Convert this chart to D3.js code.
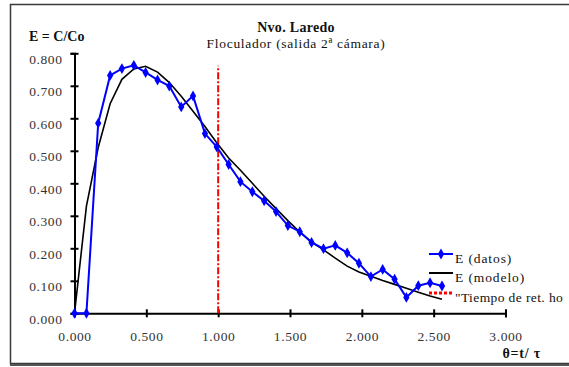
<!DOCTYPE html>
<html>
<head>
<meta charset="utf-8">
<script src="https://cdn.jsdelivr.net/npm/d3@7"></script>
<style>
  html, body { margin: 0; padding: 0; background: #fff; }
  svg { display: block; }
  text { font-family: "Liberation Serif", "Times New Roman", serif; }
</style>
</head>
<body>
<svg id="chart" width="569" height="367"></svg>
<script>
// Dimensionless time θ = t/τ for each sample
const theta = [0, 0.083, 0.165, 0.248, 0.330, 0.413, 0.495, 0.578, 0.660, 0.743,
  0.825, 0.908, 0.990, 1.073, 1.155, 1.238, 1.320, 1.403, 1.485, 1.568,
  1.650, 1.733, 1.815, 1.898, 1.980, 2.063, 2.145, 2.228, 2.310, 2.393,
  2.475, 2.558];
// Measured E = C/Co
const eDatos = [0.000, 0.000, 0.585, 0.732, 0.753, 0.763, 0.741, 0.718, 0.699, 0.635,
  0.669, 0.553, 0.512, 0.458, 0.405, 0.374, 0.346, 0.313, 0.270, 0.251,
  0.218, 0.199, 0.209, 0.186, 0.154, 0.113, 0.135, 0.105, 0.049, 0.085,
  0.094, 0.084];
// Model E curve
const eModelo = [0.000, 0.330, 0.510, 0.645, 0.720, 0.752, 0.760, 0.742, 0.710, 0.668,
  0.622, 0.575, 0.525, 0.478, 0.440, 0.400, 0.360, 0.322, 0.285, 0.250,
  0.220, 0.195, 0.170, 0.145, 0.127, 0.114, 0.101, 0.089, 0.077, 0.065,
  0.053, 0.043];
// Hydraulic retention time marker (θ = 1)
const tiempoRet = { theta: [1.0, 1.0], e: [0.0, 0.762] };

const xTicks = [0, 0.5, 1.0, 1.5, 2.0, 2.5, 3.0];
const yTicks = [0, 0.1, 0.2, 0.3, 0.4, 0.5, 0.6, 0.7, 0.8];
const legendLabels = ["E (datos)", "E (modelo)", "\"Tiempo de ret. ho"];

const svg = d3.select("#chart");

// outer frame
svg.append("rect").attr("x", 10.5).attr("y", 4.5).attr("width", 600).attr("height", 359)
  .attr("fill", "none").attr("stroke", "#3a3a3a").attr("stroke-width", 1.5);
svg.append("line").attr("x1", 10).attr("x2", 569).attr("y1", 365).attr("y2", 365)
  .attr("stroke", "#555").attr("stroke-width", 2);

const x = d3.scaleLinear().domain([0, 3]).range([74.5, 505.5]);
const y = d3.scaleLinear().domain([0, 0.8]).range([313.3, 53.3]);

const fmt = d3.format(".3f");

// X axis
const gx = svg.append("g").attr("transform", `translate(0,${y(0)})`)
  .call(d3.axisBottom(x).tickValues(xTicks).tickFormat(fmt).tickSizeOuter(0).tickSize(4).tickPadding(20));
gx.select(".domain").attr("stroke", "#000").attr("stroke-width", 2);
gx.selectAll(".tick line").attr("y1", -4).attr("y2", 4).attr("stroke", "#000").attr("stroke-width", 2);
gx.selectAll(".tick text").attr("font-family", "Liberation Serif, serif").attr("font-size", 13.5)
  .attr("letter-spacing", 0.6).attr("fill", "#333").attr("dy", "0.25em");

// Y axis
const gy = svg.append("g").attr("transform", `translate(${x(0)},0)`)
  .call(d3.axisLeft(y).tickValues(yTicks).tickFormat(fmt).tickSizeOuter(0).tickSize(4).tickPadding(8));
gy.select(".domain").attr("stroke", "#000").attr("stroke-width", 2);
gy.selectAll(".tick line").attr("x1", -4).attr("x2", 4).attr("stroke", "#000").attr("stroke-width", 2);
gy.selectAll(".tick text").attr("font-family", "Liberation Serif, serif").attr("font-size", 13.5)
  .attr("letter-spacing", 0.6).attr("fill", "#333").attr("dy", "0.75em");

const plot = svg.append("g");

// retention time line
plot.append("path")
  .datum(tiempoRet.theta.map((t, i) => [t, tiempoRet.e[i]]))
  .attr("d", d3.line().x(d => x(d[0])).y(d => y(d[1])))
  .attr("fill", "none").attr("stroke", "#ff0000").attr("stroke-width", 2)
  .attr("stroke-dasharray", "7,2,2,2");

// model line
plot.append("path")
  .datum(theta.map((t, i) => [t, eModelo[i]]))
  .attr("d", d3.line().x(d => x(d[0])).y(d => y(d[1])))
  .attr("fill", "none").attr("stroke", "#000").attr("stroke-width", 1.6);

// data line with markers
const dataPts = theta.map((t, i) => [t, eDatos[i]]);
plot.append("path")
  .datum(dataPts)
  .attr("d", d3.line().x(d => x(d[0])).y(d => y(d[1])))
  .attr("fill", "none").attr("stroke", "#0000ff").attr("stroke-width", 2);
const diamond = d3.symbol().type(d3.symbolDiamond).size(34);
plot.selectAll(".pt").data(dataPts).enter().append("path")
  .attr("transform", d => `translate(${x(d[0])},${y(d[1])})`)
  .attr("d", diamond).attr("fill", "#0000ff");

// titles
svg.append("text").attr("x", 296).attr("y", 32).attr("text-anchor", "middle")
  .attr("font-size", 14).attr("font-weight", "bold").attr("letter-spacing", 0.3)
  .attr("fill", "#111").text("Nvo. Laredo");
svg.append("text").attr("x", 296).attr("y", 48).attr("text-anchor", "middle")
  .attr("font-size", 13.5).attr("letter-spacing", 0.7).attr("fill", "#111")
  .text("Floculador (salida 2ª cámara)");
svg.append("text").attr("x", 29).attr("y", 41)
  .attr("font-size", 14).attr("font-weight", "bold").attr("fill", "#111").text("E = C/Co");
svg.append("text").attr("x", 541).attr("y", 358).attr("text-anchor", "end")
  .attr("font-size", 14).attr("font-weight", "bold").attr("letter-spacing", 0.8)
  .attr("fill", "#111").text("θ=t/ τ");

// legend
const leg = svg.append("g");
const legY = [254, 273, 293];
const legStyles = [
  { stroke: "#0000ff", width: 2, dash: null, marker: true, spacing: 0.9 },
  { stroke: "#000", width: 2, dash: null, marker: false, spacing: 0.9 },
  { stroke: "#ff0000", width: 3, dash: "3,2", marker: false, spacing: 0.4 }
];
legendLabels.forEach((lab, i) => {
  const s = legStyles[i];
  const ln = leg.append("line").attr("x1", 429).attr("x2", 453)
    .attr("y1", legY[i]).attr("y2", legY[i])
    .attr("stroke", s.stroke).attr("stroke-width", s.width);
  if (s.dash) ln.attr("stroke-dasharray", s.dash);
  if (s.marker) leg.append("path").attr("transform", `translate(441,${legY[i]})`)
    .attr("d", diamond).attr("fill", "#0000ff");
  leg.append("text").attr("x", 455).attr("y", legY[i] + 9)
    .attr("font-size", 13.5).attr("letter-spacing", s.spacing).attr("fill", "#111").text(lab);
});
</script>
</body>
</html>
